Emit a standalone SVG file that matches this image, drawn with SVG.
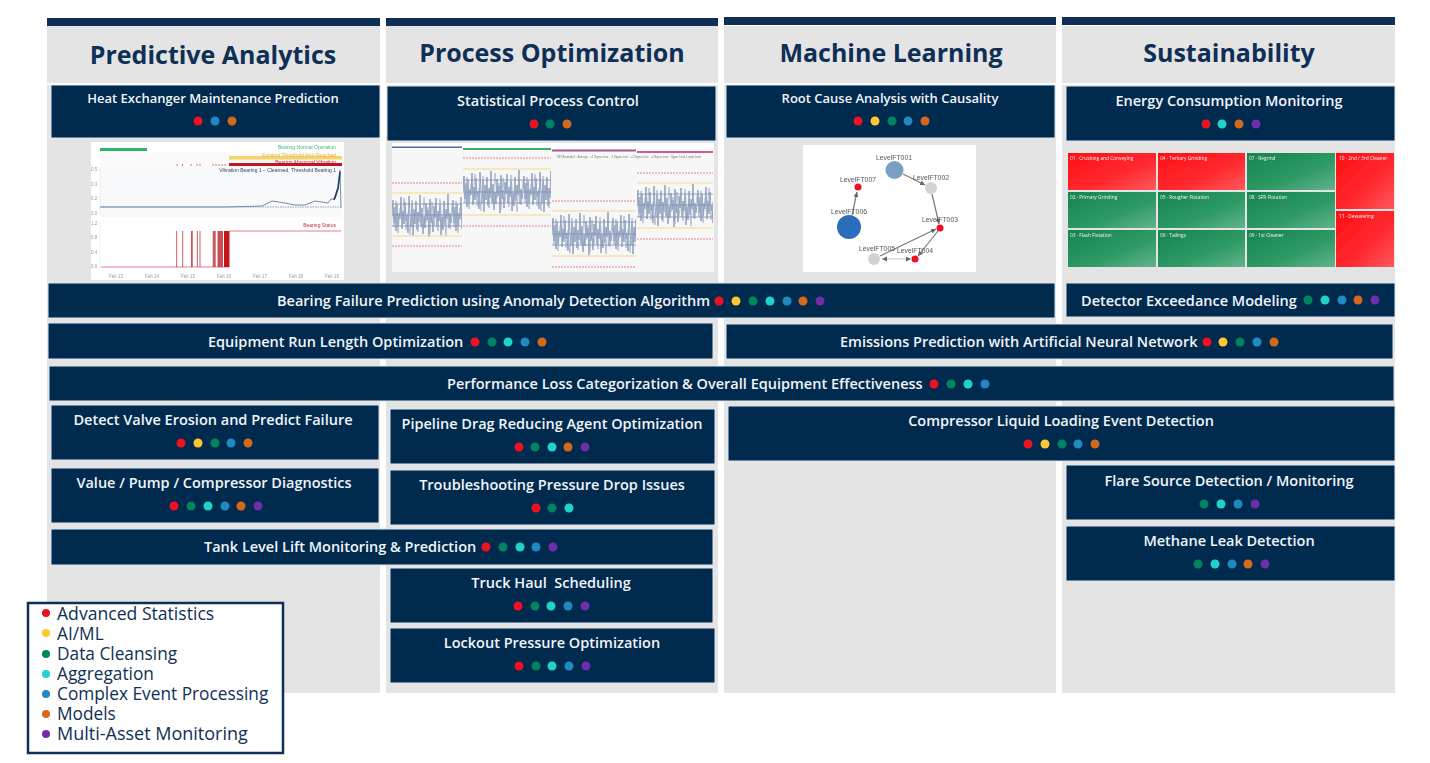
<svg xmlns="http://www.w3.org/2000/svg" width="1430" height="763" viewBox="0 0 1430 763">
<style>
text{font-family:"Open Sans","Noto Sans","Liberation Sans",sans-serif}
.col{fill:#e4e4e4}
.bar{fill:#0f2f57}
.hd{font-size:25px;font-weight:700;fill:#0f2f57;text-anchor:middle}
.card{fill:#012a4f;stroke:#dfe7ee;stroke-width:1}
.t{font-size:14.500px;font-weight:600;fill:#f2f5f8;text-anchor:middle}
.t.sm{font-size:13px}
.ts{font-size:14.500px;font-weight:600;fill:#f2f5f8}
.r{fill:#ee1123}.y{fill:#fdc82f}.g{fill:#00855f}.c{fill:#1fd3cb}.b{fill:#2189c0}.o{fill:#d4691a}.p{fill:#6f2da8}
.lg{font-size:17.300px;fill:#0f2f57}
.gl text{font-family:"Liberation Sans",sans-serif;font-size:6.800px;fill:#555;text-anchor:middle}
.hm text{font-size:4.800px;fill:#f4f4f4}
.ax,.ax text{font-family:"Liberation Sans",sans-serif;font-size:4.500px;fill:#999}
.lim{stroke:#e8808a;stroke-width:1;stroke-dasharray:2 1;fill:none}
.sig{stroke:#f3d98a;stroke-width:1;fill:none}
.mean{stroke:#7d8fb3;stroke-width:.8;fill:none}
.ed{stroke:#777;stroke-width:1.200;fill:none;marker-end:url(#ah)}
</style>
<defs>
<marker id="ah" markerWidth="6" markerHeight="6" refX="5" refY="2.500" orient="auto" markerUnits="userSpaceOnUse"><path d="M0 0L5 2.500L0 5z" fill="#666"/></marker>
<linearGradient id="rg" x1="0" y1="0" x2="1" y2="1"><stop offset="0" stop-color="#ff0f14"/><stop offset=".6" stop-color="#ff2a30"/><stop offset="1" stop-color="#ff5a60"/></linearGradient>
<linearGradient id="gg" x1="0" y1="0" x2="1" y2="1"><stop offset="0" stop-color="#15844f"/><stop offset=".6" stop-color="#2f9a66"/><stop offset="1" stop-color="#62b48c"/></linearGradient>
<pattern id="spc" patternUnits="userSpaceOnUse" width="60" height="45">
<path d="M0 22L1 7L2 30L3 14L4 38L5 11L6 33L7 20L8 26L9 4L10 36L11 18L12 31L13 9L14 28L15 22L16 40L17 3L18 24L19 34L20 12L21 43L22 16L23 31L24 8L25 37L26 19L27 29L28 2L29 33L30 15L31 41L32 23L33 35L34 10L35 27L36 17L37 44L38 6L39 30L40 21L41 39L42 13L43 25L44 5L45 34L46 18L47 28L48 12L49 42L50 24L51 37L52 8L53 32L54 16L55 26L56 1L57 35L58 20L59 30L60 22" fill="none" stroke="#6d82a8" stroke-width=".7"/>
<path d="M0 12L2 34L4 8L6 40L8 15L10 28L12 5L14 37L16 19L18 42L20 7L22 31L24 21L26 39L28 11L30 35L32 4L34 29L36 14L38 41L40 9L42 33L44 18L46 38L48 6L50 30L52 16L54 43L56 10L58 36L60 12" fill="none" stroke="#9cacc7" stroke-width=".7"/>
</pattern>
<filter id="soft" x="-2%" y="-2%" width="104%" height="104%"><feGaussianBlur stdDeviation=".35"/></filter>
</defs>
<rect width="1430" height="763" fill="#fff"/>

<g id="col-predictive"><rect class="col" x="47" y="26" width="333" height="667"/><rect class="bar" x="47" y="18" width="333" height="8"/><text class="hd" x="213" y="64">Predictive Analytics</text></g>
<g id="col-process"><rect class="col" x="386" y="26" width="332" height="667"/><rect class="bar" x="386" y="18" width="332" height="8"/><text class="hd" x="552" y="62">Process Optimization</text></g>
<g id="col-ml"><rect class="col" x="724" y="26" width="332" height="667"/><rect class="bar" x="724" y="17" width="332" height="8"/><text class="hd" x="891" y="62">Machine Learning</text></g>
<g id="col-sustain"><rect class="col" x="1062" y="26" width="333" height="667"/><rect class="bar" x="1062" y="17" width="333" height="8"/><text class="hd" x="1229" y="62">Sustainability</text></g>
<rect x="47" y="83" width="333" height="2" fill="#fff"/><rect x="386" y="83" width="332" height="2" fill="#fff"/><rect x="724" y="83" width="332" height="2" fill="#fff"/><rect x="1062" y="83" width="333" height="2" fill="#fff"/>

<g id="chart-bearing" filter="url(#soft)">
<rect x="91" y="142" width="253" height="138" fill="#fff"/>
<rect x="100" y="152" width="242" height="15" fill="#fafafa"/><rect x="100" y="167" width="242" height="50" fill="#f8f9fa"/>
<rect x="100" y="148" width="47" height="3" fill="#2eb36a"/>
<rect x="229" y="156" width="113" height="3.500" fill="#f6d36b"/>
<rect x="229" y="163" width="113" height="3" fill="#c0141e"/>
<path d="M177 164v2M182.500 164v2M191 164v2M197 164v2M200 164v2M213 164v2M216 164v2M219 164v2M222 164v2M225 164v2" stroke="#d0505a" stroke-width=".8"/>
<text x="336" y="149" text-anchor="end" class="ax" style="font-size:5px;fill:#45b878">Bearing Normal Operation</text>
<text x="336" y="157" text-anchor="end" class="ax" style="font-size:5px;fill:#e4b63a">Exhaust Threshold Also Reached</text>
<text x="336" y="164" text-anchor="end" class="ax" style="font-size:5px;fill:#b8232b">Bearing Abnormal Vibration</text>
<text x="336" y="172" text-anchor="end" class="ax" style="font-size:5px;fill:#33476a">Vibration Bearing 1 – Cleansed. Threshold Bearing 1</text>
<path d="M100 207H341" stroke="#778" stroke-width=".7" stroke-dasharray="1.500 1" fill="none"/>
<path d="M100 207H225L262 206L272 201L285 203L295 205L305 205L315 201L328 203L331 199L335 199L338 190L340 170L341 208" stroke="#6f8db0" stroke-width="1" fill="none"/>
<path d="M334 200L338 188L340 172" stroke="#1f3a68" stroke-width="1.600" fill="none"/>
<path d="M100 167V214M100 222V268" stroke="#ddd" stroke-width=".5" fill="none"/>
<path d="M101 267H229V231H341" stroke="#d8616a" stroke-width=".8" fill="none"/>
<path d="M176.700 267V231M182.700 267V231M191.500 267V231M192.300 267V231M197.300 267V231M200 267V231" stroke="#c0303a" stroke-width=".8"/>
<rect x="212.700" y="231" width="3" height="36" fill="#c0303a" opacity=".8"/><rect x="217.500" y="231" width="5.500" height="36" fill="#c0303a" opacity=".85"/><rect x="224" y="231" width="5.300" height="36" fill="#c0141e"/>
<g class="ax"><text x="91" y="171">0.5</text><text x="91" y="186">0.3</text><text x="91" y="200">0.2</text><text x="91" y="215">0.0</text><text x="91" y="225">1.2</text><text x="91" y="239">0.8</text><text x="91" y="254">0.4</text><text x="91" y="268">0.0</text>
<text x="109" y="278">Feb 13</text><text x="145" y="278">Feb 14</text><text x="181" y="278">Feb 15</text><text x="217" y="278">Feb 16</text><text x="253" y="278">Feb 17</text><text x="289" y="278">Feb 18</text><text x="325" y="278">Feb 19</text></g>
<text x="336" y="227" text-anchor="end" class="ax" style="font-size:5px;fill:#c0303a">Bearing Status</text>
</g>

<g id="chart-spc" filter="url(#soft)">
<rect x="392" y="143" width="322" height="129" fill="#f7f7f7"/>
<rect x="392" y="143" width="322" height="6" fill="#fff"/>
<rect transform="translate(392 193)" width="70" height="45" fill="url(#spc)"/>
<rect transform="translate(463 169)" width="88" height="45" fill="url(#spc)"/>
<rect transform="translate(552 211)" width="84" height="45" fill="url(#spc)"/>
<rect transform="translate(637 183)" width="76" height="45" fill="url(#spc)"/>
<rect x="392" y="146.500" width="70" height="1.500" fill="#4a6aa8"/><rect x="463" y="148" width="88" height="2" fill="#43a86b"/><rect x="552" y="149.500" width="84" height="2" fill="#a8559b"/><rect x="637" y="151" width="76" height="2" fill="#d05a94"/>
<path class="lim" d="M392 183H462M392 246H462M463 158H551M463 226H551M552 201H636M552 267H636M637 173H713M637 239H713"/>
<path class="sig" d="M392 193H462M392 236H462M463 169H551M463 215H551M552 211H636M552 256H636M637 183H713M637 228H713"/>
<path class="mean" d="M392 204H462M392 215H462M392 226H462M463 180H551M463 192H551M463 203H551M552 222H636M552 234H636M552 245H636M637 194H713M637 205H713M637 217H713"/>
<text x="557" y="157.500" class="ax" style="font-size:2.800px;fill:#777">SPCExample1 · Average · +1 Sigma Line · -1 Sigma Line · +2 Sigma Line · -2 Sigma Line · Upper Limit, Lower Limit</text>
</g>

<g id="chart-graph" filter="url(#soft)">
<rect x="803" y="145" width="173" height="127" fill="#fff"/>
<g id="connectors">
<path class="ed" d="M903 174L925 185"/><path class="ed" d="M932 194L939 224"/><path class="ed" d="M938 231L918 256"/><path class="ed" d="M880 256L936 229"/><path class="ed" d="M884 259H911" style="stroke:#ddd"/><path class="ed" d="M905 259H882" style="stroke:#ddd"/><path class="ed" d="M852 215L857 192"/><path d="M858 237L868 252" stroke="#eee" fill="none"/>
</g>
<circle cx="894.500" cy="170" r="9" fill="#7a9fc2"/><circle cx="931" cy="188" r="6" fill="#d2d2d2"/><circle cx="940" cy="228" r="3.500" fill="#ee1123"/><circle cx="915" cy="259" r="3.500" fill="#ee1123"/><circle cx="874" cy="259" r="6" fill="#d2d2d2"/><circle cx="849" cy="227" r="12" fill="#2a6ebb"/><circle cx="858" cy="187" r="3.500" fill="#ee1123"/>
<g class="gl"><text x="894" y="160">LevelFT001</text><text x="931" y="180">LevelFT002</text><text x="940" y="222">LevelFT003</text><text x="915" y="253">LevelFT004</text><text x="877" y="251">LevelFT005</text><text x="849" y="214">LevelFT006</text><text x="858" y="182">LevelFT007</text></g>
</g>

<g id="chart-heatmap" filter="url(#soft)">
<g fill="url(#rg)"><rect x="1068" y="153" width="88" height="37"/><rect x="1158" y="153" width="87" height="37"/><rect x="1336" y="153" width="58" height="56"/><rect x="1336" y="211" width="58" height="56"/></g>
<g fill="url(#gg)"><rect x="1247" y="153" width="88" height="37"/><rect x="1068" y="192" width="88" height="36"/><rect x="1158" y="192" width="87" height="36"/><rect x="1247" y="192" width="88" height="36"/><rect x="1068" y="230" width="88" height="37"/><rect x="1158" y="230" width="87" height="37"/><rect x="1247" y="230" width="88" height="37"/></g>
<g class="hm"><text x="1070" y="160">01 · Crushing and Conveying</text><text x="1160" y="160">04 · Tertiary Grinding</text><text x="1249" y="160">07 · Regrind</text><text x="1339" y="160">10 · 2nd / 3rd Cleaner</text>
<text x="1070" y="199">02 · Primary Grinding</text><text x="1160" y="199">05 · Rougher Flotation</text><text x="1249" y="199">08 · SFR Flotation</text><text x="1339" y="218">11 · Dewatering</text>
<text x="1070" y="237">03 · Flash Flotation</text><text x="1160" y="237">06 · Tailings</text><text x="1249" y="237">09 · 1st Cleaner</text></g>
</g>

<g id="n-heat"><rect class="card" x="51" y="85" width="329" height="53"/><text class="t sm" x="213" y="103">Heat Exchanger Maintenance Prediction</text><circle class="r" cx="198" cy="121" r="4.500"/><circle class="b" cx="215" cy="121" r="4.500"/><circle class="o" cx="232" cy="121" r="4.500"/></g>
<g id="n-spc"><rect class="card" x="387" y="86" width="329" height="55"/><text class="t" x="548" y="106">Statistical Process Control</text><circle class="r" cx="534" cy="124" r="4.500"/><circle class="g" cx="550" cy="124" r="4.500"/><circle class="o" cx="567" cy="124" r="4.500"/></g>
<g id="n-rootcause"><rect class="card" x="726" y="85" width="329" height="53"/><text class="t sm" x="890" y="103">Root Cause Analysis with Causality</text><circle class="r" cx="858" cy="121" r="4.500"/><circle class="y" cx="875" cy="121" r="4.500"/><circle class="g" cx="892" cy="121" r="4.500"/><circle class="b" cx="908" cy="121" r="4.500"/><circle class="o" cx="925" cy="121" r="4.500"/></g>
<g id="n-energy"><rect class="card" x="1066" y="86" width="329" height="55"/><text class="t" x="1229" y="106">Energy Consumption Monitoring</text><circle class="r" cx="1206" cy="124" r="4.500"/><circle class="c" cx="1222" cy="124" r="4.500"/><circle class="o" cx="1239" cy="124" r="4.500"/><circle class="p" cx="1256" cy="124" r="4.500"/></g>
<g id="n-bearing"><rect class="card" x="48" y="283" width="1007" height="35"/><text class="ts" x="277" y="306">Bearing Failure Prediction using Anomaly Detection Algorithm</text><circle class="r" cx="719" cy="301" r="4.500"/><circle class="y" cx="736" cy="301" r="4.500"/><circle class="g" cx="753" cy="301" r="4.500"/><circle class="c" cx="770" cy="301" r="4.500"/><circle class="b" cx="787" cy="301" r="4.500"/><circle class="o" cx="803" cy="301" r="4.500"/><circle class="p" cx="820" cy="301" r="4.500"/></g>
<g id="n-detector"><rect class="card" x="1066" y="283" width="329" height="34"/><text class="ts" x="1081" y="306">Detector Exceedance Modeling</text><circle class="g" cx="1308" cy="300" r="4.500"/><circle class="c" cx="1325" cy="300" r="4.500"/><circle class="b" cx="1342" cy="300" r="4.500"/><circle class="o" cx="1358" cy="300" r="4.500"/><circle class="p" cx="1375" cy="300" r="4.500"/></g>
<g id="n-runlength"><rect class="card" x="48" y="323" width="665" height="36"/><text class="ts" x="208" y="347">Equipment Run Length Optimization</text><circle class="r" cx="475" cy="342" r="4.500"/><circle class="g" cx="492" cy="342" r="4.500"/><circle class="c" cx="508" cy="342" r="4.500"/><circle class="b" cx="525" cy="342" r="4.500"/><circle class="o" cx="542" cy="342" r="4.500"/></g>
<g id="n-emissions"><rect class="card" x="726" y="324" width="667" height="35"/><text class="ts" x="840" y="347">Emissions Prediction with Artificial Neural Network</text><circle class="r" cx="1207" cy="342" r="4.500"/><circle class="y" cx="1223" cy="342" r="4.500"/><circle class="g" cx="1240" cy="342" r="4.500"/><circle class="b" cx="1257" cy="342" r="4.500"/><circle class="o" cx="1274" cy="342" r="4.500"/></g>
<g id="n-performance"><rect class="card" x="49" y="366" width="1345" height="35"/><text class="ts" x="447" y="389">Performance Loss Categorization &amp; Overall Equipment Effectiveness</text><circle class="r" cx="934" cy="384" r="4.500"/><circle class="g" cx="951" cy="384" r="4.500"/><circle class="c" cx="968" cy="384" r="4.500"/><circle class="b" cx="985" cy="384" r="4.500"/></g>
<g id="n-valve"><rect class="card" x="51" y="405" width="328" height="55"/><text class="t" x="213" y="425">Detect Valve Erosion and Predict Failure</text><circle class="r" cx="181" cy="443" r="4.500"/><circle class="y" cx="198" cy="443" r="4.500"/><circle class="g" cx="215" cy="443" r="4.500"/><circle class="b" cx="231" cy="443" r="4.500"/><circle class="o" cx="248" cy="443" r="4.500"/></g>
<g id="n-pipeline"><rect class="card" x="390" y="409" width="325" height="55"/><text class="t" x="552" y="429">Pipeline Drag Reducing Agent Optimization</text><circle class="r" cx="519" cy="447" r="4.500"/><circle class="g" cx="535" cy="447" r="4.500"/><circle class="c" cx="552" cy="447" r="4.500"/><circle class="o" cx="568" cy="447" r="4.500"/><circle class="p" cx="585" cy="447" r="4.500"/></g>
<g id="n-compressor"><rect class="card" x="728" y="406" width="667" height="55"/><text class="t" x="1061" y="426">Compressor Liquid Loading Event Detection</text><circle class="r" cx="1028" cy="444" r="4.500"/><circle class="y" cx="1045" cy="444" r="4.500"/><circle class="g" cx="1062" cy="444" r="4.500"/><circle class="b" cx="1078" cy="444" r="4.500"/><circle class="o" cx="1095" cy="444" r="4.500"/></g>
<g id="n-value"><rect class="card" x="51" y="468" width="328" height="55"/><text class="t" x="214" y="488">Value / Pump / Compressor Diagnostics</text><circle class="r" cx="174" cy="506" r="4.500"/><circle class="g" cx="191" cy="506" r="4.500"/><circle class="c" cx="208" cy="506" r="4.500"/><circle class="b" cx="225" cy="506" r="4.500"/><circle class="o" cx="241" cy="506" r="4.500"/><circle class="p" cx="258" cy="506" r="4.500"/></g>
<g id="n-pressure"><rect class="card" x="390" y="470" width="325" height="55"/><text class="t" x="552" y="490">Troubleshooting Pressure Drop Issues</text><circle class="r" cx="536" cy="508" r="4.500"/><circle class="g" cx="552" cy="508" r="4.500"/><circle class="c" cx="569" cy="508" r="4.500"/></g>
<g id="n-flare"><rect class="card" x="1066" y="465" width="329" height="55"/><text class="t" x="1229" y="486">Flare Source Detection / Monitoring</text><circle class="g" cx="1204" cy="504" r="4.500"/><circle class="c" cx="1221" cy="504" r="4.500"/><circle class="b" cx="1238" cy="504" r="4.500"/><circle class="p" cx="1255" cy="504" r="4.500"/></g>
<g id="n-methane"><rect class="card" x="1066" y="526" width="329" height="55"/><text class="t" x="1229" y="546">Methane Leak Detection</text><circle class="g" cx="1198" cy="564" r="4.500"/><circle class="c" cx="1215" cy="564" r="4.500"/><circle class="b" cx="1232" cy="564" r="4.500"/><circle class="o" cx="1248" cy="564" r="4.500"/><circle class="p" cx="1265" cy="564" r="4.500"/></g>
<g id="n-tank"><rect class="card" x="51" y="529" width="662" height="36"/><text class="ts" x="204" y="552">Tank Level Lift Monitoring &amp; Prediction</text><circle class="r" cx="486" cy="547" r="4.500"/><circle class="g" cx="503" cy="547" r="4.500"/><circle class="c" cx="520" cy="547" r="4.500"/><circle class="b" cx="536" cy="547" r="4.500"/><circle class="p" cx="553" cy="547" r="4.500"/></g>
<g id="n-truck"><rect class="card" x="390" y="568" width="323" height="55"/><text class="t" x="551" y="588" xml:space="preserve">Truck Haul  Scheduling</text><circle class="r" cx="518" cy="606" r="4.500"/><circle class="g" cx="535" cy="606" r="4.500"/><circle class="c" cx="551" cy="606" r="4.500"/><circle class="b" cx="568" cy="606" r="4.500"/><circle class="p" cx="585" cy="606" r="4.500"/></g>
<g id="n-lockout"><rect class="card" x="390" y="628" width="325" height="55"/><text class="t" x="552" y="648">Lockout Pressure Optimization</text><circle class="r" cx="519" cy="666" r="4.500"/><circle class="g" cx="536" cy="666" r="4.500"/><circle class="c" cx="552" cy="666" r="4.500"/><circle class="b" cx="569" cy="666" r="4.500"/><circle class="p" cx="586" cy="666" r="4.500"/></g>

<g id="legend">
<rect x="28" y="603" width="255" height="150" fill="#fff" stroke="#0f2f57" stroke-width="2.500"/>
<circle class="r" cx="46" cy="613" r="4"/><text class="lg" x="57" y="619.500" style="font-size:17.600px">Advanced Statistics</text>
<circle class="y" cx="46" cy="633" r="4"/><text class="lg" x="57" y="639.500">AI/ML</text>
<circle class="g" cx="46" cy="654" r="4"/><text class="lg" x="57" y="659.500">Data Cleansing</text>
<circle class="c" cx="46" cy="674" r="4"/><text class="lg" x="57" y="679.500">Aggregation</text>
<circle class="b" cx="46" cy="694" r="4"/><text class="lg" x="57" y="699.500">Complex Event Processing</text>
<circle class="o" cx="46" cy="714" r="4"/><text class="lg" x="57" y="719.500">Models</text>
<circle class="p" cx="46" cy="734" r="4"/><text class="lg" x="57" y="740" style="font-size:18px">Multi-Asset Monitoring</text>
</g>
</svg>
